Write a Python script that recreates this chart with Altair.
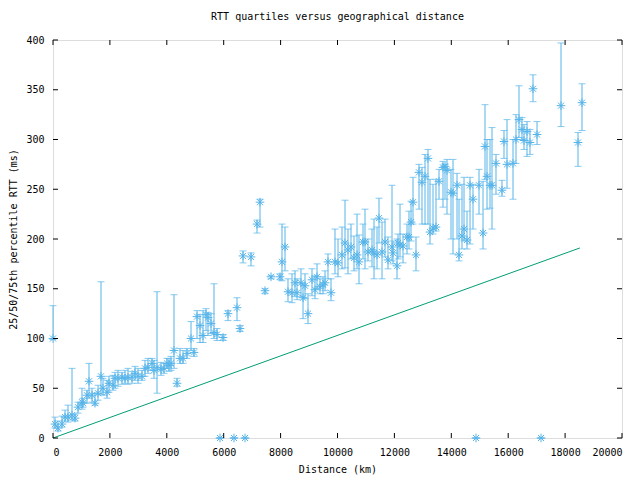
import altair as alt
import pandas as pd

# distance (km), median RTT, 25th percentile, 75th percentile (ms)
dist = [0, 70, 176, 316, 422, 527, 668, 773, 879, 1019, 1055, 1195, 1265, 1371, 1476, 1582, 1687, 1757,
        1898, 1968, 2109, 2179, 2285, 2425, 2531, 2636, 2777, 2882, 2988, 3128, 3234, 3339, 3480, 3550,
        3656, 3796, 3902, 4007, 4077, 4148, 4253, 4359, 4464,
        4570, 4710, 4851, 4956, 5062, 5167, 5273, 5378, 5448, 5554, 5659, 5765, 5976, 6151, 6468, 6573,
        6679, 6960, 7171, 7276, 7452, 7663, 7979, 8049, 8155,
        8260, 8401, 8506, 8577, 8717, 8788, 8858, 8963, 9104, 9209, 9280, 9385, 9491, 9561, 9666, 9772,
        9912, 10018, 10158, 10264, 10369, 10475, 10580, 10686, 10756, 10897, 10967, 11072, 11213, 11283,
        11389, 11459, 11565, 11670, 11775, 11916, 11951, 12092, 12127,
        12197, 12303, 12443, 12513, 12584, 12654, 12759, 12865, 12970, 13076, 13181, 13251, 13357, 13462,
        13568, 13708, 13779, 13849, 13990, 14060, 14201, 14271, 14376, 14447, 14552, 14658, 14763, 14974,
        15115, 15185, 15255, 15361, 15431, 15571,
        15782, 15852, 15958, 16169, 16274, 16380, 16485, 16555, 16661, 16766, 16872, 17013, 17856, 18454, 18594,
        5870, 6362, 6749, 14868, 17153]
med = [100, 14, 10, 14, 21, 21, 23, 20, 31, 36, 35, 43, 57, 43, 35, 45, 62, 50,
       46, 55, 53, 60, 60, 61, 60, 61, 61, 65, 62, 62, 70, 71, 75, 68,
       71, 69, 70, 75, 73, 75, 88, 55, 80,
       80, 85, 100, 86, 122, 113, 103, 124, 121, 115, 106, 104, 101, 125, 131, 110,
       183, 182, 215, 237, 148, 162, 162, 177, 192,
       147, 146, 156, 146, 156, 141, 153, 125, 159, 149, 162, 152, 154, 156, 177, 146,
       177, 176, 184, 196, 189, 192, 181, 184, 177, 197, 197, 187, 189, 186,
       184, 221, 187, 197, 179, 192, 186, 173, 196,
       194, 193, 202, 202, 217, 237, 184, 267, 257, 263, 281, 207, 211, 212,
       258, 272, 273, 269, 247, 246, 254, 184, 203, 210, 199, 254, 240, 254,
       206, 293, 263, 254, 254, 276,
       249, 298, 275, 276, 300, 320, 310, 299, 308, 297, 351, 305, 334, 297, 337,
       0, 0, 0, 0, 0]
lo = [99, 10, 7, 11, 17, 16, 18, 17, 25, 29, 31, 35, 40, 36, 33, 38, 44, 43,
      40, 46, 48, 50, 52, 54, 55, 54, 55, 58, 55, 58, 62, 65, 68, 60,
      45, 63, 65, 70, 67, 68, 70, 52, 75,
      75, 80, 88, 82, 100, 96, 96, 108, 103, 105, 100, 98, 98, 118, 118, 107,
      176, 173, 206, 212, 145, 160, 159, 158, 168,
      137, 136, 142, 139, 142, 120, 140, 115, 143, 140, 150, 145, 145, 148, 160, 138,
      165, 162, 170, 171, 165, 180, 168, 170, 155, 180, 170, 178, 172, 160,
      170, 196, 160, 182, 170, 178, 175, 160, 180,
      182, 176, 185, 190, 198, 215, 168, 230, 215, 215, 215, 195, 205, 208,
      240, 232, 240, 225, 200, 185, 200, 178, 190, 198, 190, 195, 210, 225,
      190, 260, 230, 231, 210, 245,
      243, 281, 251, 240, 276, 302, 300, 290, 283, 285, 338, 295, 313, 273, 309,
      0, 0, 0, 0, 0]
hi = [133, 21, 17, 22, 28, 33, 70, 24, 36, 50, 40, 48, 75, 50, 45, 53, 157, 60,
      58, 62, 63, 66, 68, 66, 68, 70, 67, 72, 70, 68, 78, 80, 80, 78,
      147, 76, 75, 80, 80, 82, 144, 60, 90,
      88, 90, 117, 90, 128, 124, 128, 130, 126, 125, 155, 110, 104, 128, 141, 113,
      188, 186, 219, 240, 150, 163, 165, 215, 212,
      160, 165, 168, 160, 170, 155, 165, 145, 170, 163, 175, 160, 162, 168, 185, 160,
      210, 200, 212, 239, 210, 215, 203, 225, 204, 215, 230, 200, 210, 220,
      212, 241, 217, 220, 202, 254, 198, 200, 205,
      235, 205, 215, 228, 238, 262, 202, 275, 272, 285, 290, 260, 255, 260,
      270, 278, 275, 280, 270, 280, 266, 240, 255, 262, 228, 262, 255, 270,
      258, 335, 300, 300, 312, 285,
      259, 309, 320, 300, 325, 354, 322, 315, 318, 310, 365, 318, 397, 307, 356,
      0, 0, 0, 0, 0]

# speed-of-light-in-fibre reference line
line_x = [0, 18520]
line_y = [0, 191]

x_ticks = list(range(0, 20001, 2000))
y_ticks = list(range(0, 401, 50))

W, H = 569, 398
FONT = "DejaVu Sans Mono"
BLUE = "#56b4e9"
GREEN = "#009e73"

df = pd.DataFrame({"dist": dist, "med": med, "lo": lo, "hi": hi})
ldf = pd.DataFrame({"dist": line_x, "rtt": line_y})
xt = pd.DataFrame({"v": x_ticks})
yt = pd.DataFrame({"v": y_ticks})

xs = alt.Scale(domain=[0, 20000], nice=False, zero=False)
ys = alt.Scale(domain=[0, 400], nice=False, zero=False)

xaxis = alt.Axis(values=x_ticks, format="d", tickSize=0, domain=False, grid=False,
                 labelFont=FONT, labelFontSize=10, labelColor="black", labelPadding=9,
                 title="Distance (km)", titleFont=FONT, titleFontSize=10, titleFontWeight="normal",
                 titleColor="black", titleY=31, titleBaseline="middle")
yaxis = alt.Axis(values=y_ticks, format="d", tickSize=0, domain=False, grid=False,
                 labelFont=FONT, labelFontSize=10, labelColor="black", labelPadding=9,
                 title="25/50/75th percentile RTT (ms)", titleFont=FONT, titleFontSize=10,
                 titleFontWeight="normal", titleColor="black", titleX=-40, titleY=H / 2,
                 titleBaseline="middle", titleAngle=-90)

base = alt.Chart(df)

bars = base.mark_rule(color=BLUE, strokeWidth=1).encode(
    x=alt.X("dist:Q", scale=xs, axis=xaxis),
    y=alt.Y("lo:Q", scale=ys, axis=yaxis),
    y2="hi:Q",
)
cap_lo = base.mark_tick(color=BLUE, orient="horizontal", size=7, thickness=1).encode(
    x=alt.X("dist:Q", scale=xs), y=alt.Y("lo:Q", scale=ys))
cap_hi = base.mark_tick(color=BLUE, orient="horizontal", size=7, thickness=1).encode(
    x=alt.X("dist:Q", scale=xs), y=alt.Y("hi:Q", scale=ys))

star = "M-1,0L1,0M0,-1L0,1M-0.7,-0.7L0.7,0.7M-0.7,0.7L0.7,-0.7"
pts = base.mark_point(shape=star, filled=False, color=BLUE, size=75, strokeWidth=1, opacity=1).encode(
    x=alt.X("dist:Q", scale=xs), y=alt.Y("med:Q", scale=ys))

line = alt.Chart(ldf).mark_line(color=GREEN, strokeWidth=1).encode(
    x=alt.X("dist:Q", scale=xs), y=alt.Y("rtt:Q", scale=ys))

tl = 5
xb = alt.Chart(xt).mark_rule(color="black", strokeWidth=1).encode(
    x=alt.X("v:Q", scale=xs), y=alt.value(H), y2=alt.value(H - tl))
xtop = alt.Chart(xt).mark_rule(color="black", strokeWidth=1).encode(
    x=alt.X("v:Q", scale=xs), y=alt.value(0), y2=alt.value(tl))
yl = alt.Chart(yt).mark_rule(color="black", strokeWidth=1).encode(
    y=alt.Y("v:Q", scale=ys), x=alt.value(0), x2=alt.value(tl))
yr = alt.Chart(yt).mark_rule(color="black", strokeWidth=1).encode(
    y=alt.Y("v:Q", scale=ys), x=alt.value(W), x2=alt.value(W - tl))

chart = alt.layer(bars, cap_lo, cap_hi, pts, line, xb, xtop, yl, yr).properties(
    width=W, height=H,
    title=alt.TitleParams("RTT quartiles versus geographical distance", font=FONT, fontSize=10,
                          fontWeight="normal", color="black", offset=13),
    autosize=alt.AutoSizeParams(type="none"),
    padding={"left": 45, "top": 32, "right": 10, "bottom": 42},
).configure_view(stroke="black", strokeWidth=1).configure(background="white")

chart.save("out.html", embed_options={"renderer": "svg", "actions": False})
